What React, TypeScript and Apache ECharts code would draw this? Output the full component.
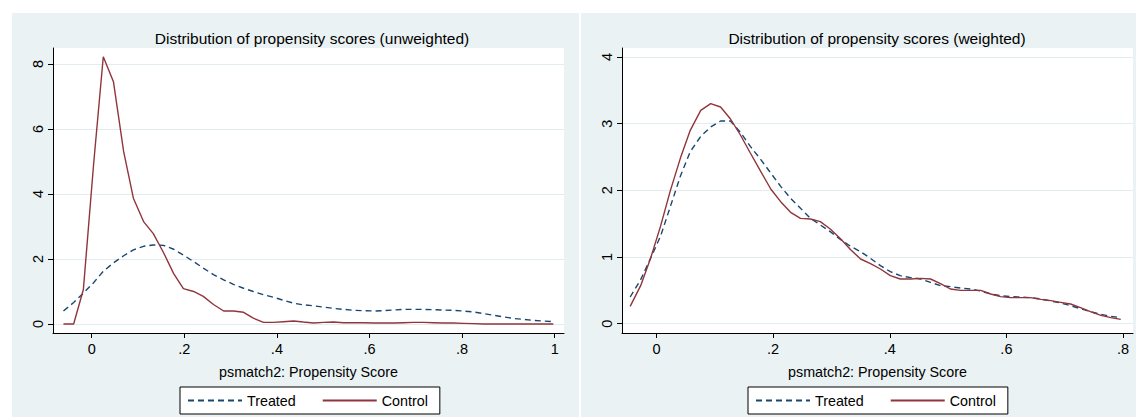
import React, { useEffect, useRef } from "react";
import * as echarts from "echarts";

// ---------- data ----------
const LEFT_X = [
  -0.061, -0.039, -0.018, 0.004, 0.025, 0.047, 0.069, 0.09, 0.112, 0.133,
  0.155, 0.177, 0.198, 0.22, 0.241, 0.263, 0.285, 0.306, 0.328, 0.349,
  0.371, 0.393, 0.414, 0.436, 0.457, 0.479, 0.501, 0.522, 0.544, 0.565,
  0.587, 0.609, 0.63, 0.652, 0.673, 0.695, 0.717, 0.738, 0.76, 0.781,
  0.803, 0.825, 0.846, 0.868, 0.889, 0.911, 0.933, 0.954, 0.976, 0.997,
];
const LEFT_TREATED = [
  0.4, 0.66, 0.95, 1.27, 1.62, 1.88, 2.1, 2.28, 2.39, 2.43,
  2.42, 2.3, 2.12, 1.92, 1.72, 1.52, 1.36, 1.22, 1.1, 1.0,
  0.9, 0.82, 0.73, 0.64, 0.59, 0.56, 0.52, 0.48, 0.45, 0.42,
  0.41, 0.4, 0.41, 0.43, 0.45, 0.45, 0.45, 0.44, 0.43, 0.42,
  0.4, 0.37, 0.32, 0.27, 0.22, 0.17, 0.14, 0.11, 0.09, 0.07,
];
const LEFT_CONTROL = [
  0, 0, 1.06, 4.9, 8.22, 7.45, 5.3, 3.87, 3.15, 2.78,
  2.2, 1.55, 1.09, 1.0, 0.85, 0.6, 0.4, 0.4, 0.36, 0.18,
  0.05, 0.05, 0.07, 0.09, 0.06, 0.03, 0.05, 0.06, 0.04, 0.04,
  0.04, 0.03, 0.03, 0.03, 0.04, 0.05, 0.05, 0.04, 0.03, 0.03,
  0.02, 0.01, 0, 0, 0, 0, 0, 0, 0, 0,
];

const RIGHT_X = [
  -0.045, -0.027, -0.01, 0.007, 0.024, 0.041, 0.058, 0.076, 0.093, 0.11,
  0.127, 0.144, 0.161, 0.179, 0.196, 0.213, 0.23, 0.247, 0.264, 0.281,
  0.298, 0.316, 0.333, 0.35, 0.367, 0.384, 0.401, 0.418, 0.436, 0.453,
  0.47, 0.487, 0.504, 0.521, 0.538, 0.556, 0.573, 0.59, 0.607, 0.624,
  0.641, 0.659, 0.676, 0.693, 0.71, 0.727, 0.744, 0.762, 0.779, 0.796,
];
const RIGHT_TREATED = [
  0.4, 0.66, 0.98, 1.31, 1.76, 2.21, 2.58, 2.81, 2.95, 3.04,
  3.04, 2.87, 2.66, 2.46, 2.26, 2.06, 1.88, 1.73, 1.58, 1.48,
  1.38, 1.26, 1.16, 1.08, 0.98, 0.87, 0.78, 0.72, 0.69, 0.67,
  0.62, 0.57, 0.555, 0.535, 0.52, 0.49, 0.445, 0.42, 0.405, 0.4,
  0.39, 0.37, 0.34, 0.31, 0.27, 0.225, 0.18, 0.14, 0.11, 0.09,
];
const RIGHT_CONTROL = [
  0.26, 0.57, 0.98, 1.46, 2.0, 2.48, 2.9, 3.2, 3.3, 3.25,
  3.07, 2.83, 2.56, 2.28, 2.02, 1.83, 1.67, 1.58, 1.57, 1.53,
  1.42, 1.27, 1.11, 0.97, 0.9, 0.82, 0.72, 0.67, 0.67, 0.68,
  0.67, 0.6, 0.52, 0.5, 0.5, 0.5, 0.445, 0.405, 0.39, 0.39,
  0.39, 0.365, 0.345, 0.32, 0.295, 0.24, 0.18, 0.125, 0.09, 0.065,
];

const LEFT_X_TICKS = [0, 0.2, 0.4, 0.6, 0.8, 1];
const RIGHT_X_TICKS = [0, 0.2, 0.4, 0.6, 0.8];
const LEFT_Y_TICKS = [0, 2, 4, 6, 8];
const RIGHT_Y_TICKS = [0, 1, 2, 3, 4];

const TITLES = [
  "Distribution of propensity scores (unweighted)",
  "Distribution of propensity scores (weighted)",
];
const X_NAME = "psmatch2: Propensity Score";
const SERIES_NAMES = ["Treated", "Control"];

// ---------- style ----------
const FONT = "'Liberation Sans', Arial, Helvetica, sans-serif";
const BG = "#eaf2f3";
const NAVY = "#1a476f";
const MAROON = "#90353b";

const fmt = (v: number) => {
  const r = Math.round(v * 10) / 10;
  if (r === 0) return "0";
  if (r === 1) return "1";
  return String(r).replace(/^0\./, ".");
};

export default function App() {
  const ref = useRef<HTMLDivElement>(null);

  useEffect(() => {
    if (!ref.current) return;
    const chart = echarts.init(ref.current, undefined, { renderer: "svg" });

    const grids = [
      { left: 53, top: 48, width: 511, height: 285 },
      { left: 622, top: 48, width: 511, height: 285 },
    ];
    const xRanges = [
      [-0.0836, 1.02],
      [-0.059, 0.817],
    ];
    const yRanges = [
      [-0.277, 8.49],
      [-0.14, 4.135],
    ];
    const xTicks = [LEFT_X_TICKS, RIGHT_X_TICKS];
    const yTicks = [LEFT_Y_TICKS, RIGHT_Y_TICKS];

    const xAxis = [0, 1].map((i) => ({
      type: "value",
      gridIndex: i,
      min: xRanges[i][0],
      max: xRanges[i][1],
      name: X_NAME,
      nameLocation: "middle",
      nameGap: 39,
      nameTextStyle: { fontFamily: FONT, fontSize: 14.3, color: "#000", verticalAlign: "middle" },
      axisLine: { show: true, onZero: false, lineStyle: { color: "#000", width: 1 } },
      axisTick: { show: true, length: 5, lineStyle: { color: "#000" }, customValues: xTicks[i] },
      axisLabel: {
        customValues: xTicks[i],
        formatter: fmt,
        fontFamily: FONT,
        fontSize: 14.5,
        color: "#000",
        margin: 8,
      },
      splitLine: { show: false },
    }));

    const yAxis = [0, 1].map((i) => ({
      type: "value",
      gridIndex: i,
      min: yRanges[i][0],
      max: yRanges[i][1],
      axisLine: { show: true, onZero: false, lineStyle: { color: "#000", width: 1 } },
      axisTick: { show: true, length: 5, lineStyle: { color: "#000" }, customValues: yTicks[i] },
      axisLabel: {
        customValues: yTicks[i],
        formatter: (v: number) => String(Math.round(v)),
        rotate: 90,
        fontFamily: FONT,
        fontSize: 14.5,
        color: "#000",
        margin: 8,
      },
      splitLine: { show: true, lineStyle: { color: "#e3ecee", width: 1.2 } },
    }));

    const mk = (name: string, xs: number[], ys: number[], idx: number, color: string, dashed: boolean) => ({
      type: "line",
      name,
      xAxisIndex: idx,
      yAxisIndex: idx,
      data: xs.map((x, k) => [x, ys[k]]),
      symbol: "none",
      showSymbol: false,
      smooth: false,
      lineStyle: { color, width: 1.4, type: dashed ? [6, 4] : "solid" },
      itemStyle: { color },
    });

    const series = [
      mk(SERIES_NAMES[0], LEFT_X, LEFT_TREATED, 0, NAVY, true),
      mk(SERIES_NAMES[1], LEFT_X, LEFT_CONTROL, 0, MAROON, false),
      mk(SERIES_NAMES[0], RIGHT_X, RIGHT_TREATED, 1, NAVY, true),
      mk(SERIES_NAMES[1], RIGHT_X, RIGHT_CONTROL, 1, MAROON, false),
    ];

    const legendBase = {
      data: SERIES_NAMES,
      top: 387,
      orient: "horizontal",
      itemWidth: 54,
      itemHeight: 14,
      itemGap: 26,
      padding: [6.5, 12, 6.5, 7],
      borderColor: "#000",
      borderWidth: 1,
      backgroundColor: "#fff",
      selectedMode: false,
      itemStyle: { opacity: 0, borderWidth: 0 },
      textStyle: { fontFamily: FONT, fontSize: 14.3, color: "#000", lineHeight: 14 },
    };

    chart.setOption({
      animation: false,
      backgroundColor: BG,
      grid: grids.map((g) => ({ ...g, show: true, backgroundColor: "#fff", borderWidth: 0, containLabel: false })),
      xAxis,
      yAxis,
      series,
      legend: [
        { ...legendBase, left: 180 },
        { ...legendBase, left: 748 },
      ],
      graphic: [
        { type: "rect", shape: { x: 0, y: 0, width: 1136, height: 13 }, style: { fill: "#fff" }, silent: true },
        { type: "rect", shape: { x: 0, y: 0, width: 12, height: 417 }, style: { fill: "#fff" }, silent: true },
        { type: "rect", shape: { x: 579, y: 13, width: 2, height: 404 }, style: { fill: "#fff" }, silent: true },
        {
          type: "text",
          x: 312,
          y: 38,
          style: { text: TITLES[0], fontFamily: FONT, fontSize: 15.5, fill: "#000", textAlign: "center", textVerticalAlign: "middle" },
        },
        {
          type: "text",
          x: 877,
          y: 38,
          style: { text: TITLES[1], fontFamily: FONT, fontSize: 15.5, fill: "#000", textAlign: "center", textVerticalAlign: "middle" },
        },
      ],
    });

    return () => chart.dispose();
  }, []);

  return (
    <div
      ref={ref}
      style={{ position: "absolute", left: 0, top: 0, width: 1136, height: 417 }}
    />
  );
}
